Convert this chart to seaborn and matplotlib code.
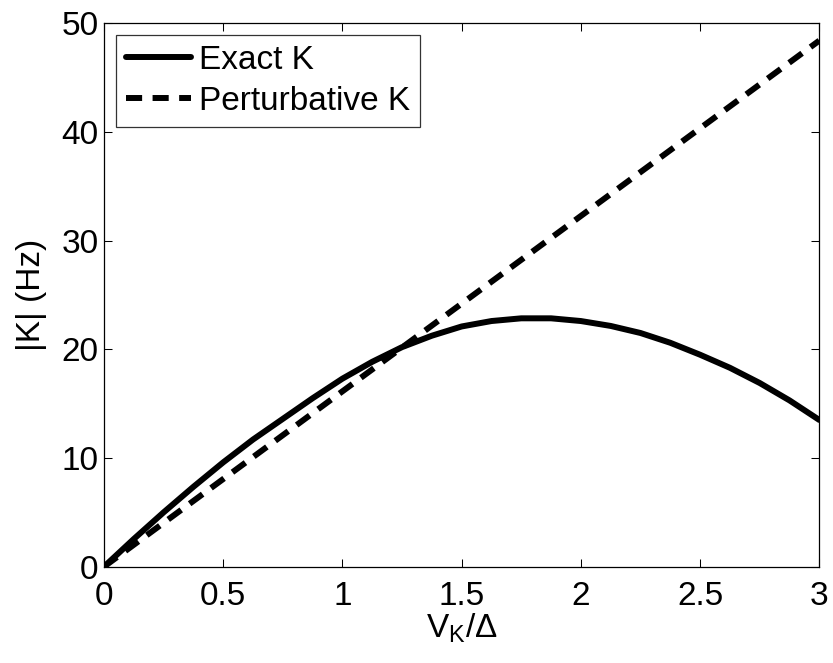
import matplotlib
matplotlib.use("Agg")
import matplotlib.pyplot as plt
import seaborn as sns
import pandas as pd

sns.set_theme(style="white")
plt.rcParams['font.family'] = ['Liberation Sans', 'DejaVu Sans']
plt.rcParams['text.color'] = 'black'
plt.rcParams['mathtext.fontset'] = 'custom'
plt.rcParams['mathtext.rm'] = 'Liberation Sans'
plt.rcParams['mathtext.it'] = 'Liberation Sans'
plt.rcParams['mathtext.sf'] = 'Liberation Sans'

# Data
exact_x = [0, 0.125, 0.25, 0.375, 0.5, 0.625, 0.75, 0.875, 1.0, 1.125, 1.25, 1.375,
           1.5, 1.625, 1.75, 1.875, 2.0, 2.125, 2.25, 2.375, 2.5, 2.625, 2.75, 2.875, 3.0]
exact_k = [0, 2.55, 5.0, 7.35, 9.6, 11.7, 13.6, 15.5, 17.3, 18.85, 20.2, 21.25,
           22.1, 22.6, 22.85, 22.85, 22.6, 22.15, 21.5, 20.6, 19.5, 18.3, 16.9, 15.3, 13.5]
pert_x = [0, 3.0]
pert_k = [0, 48.4]

x_ticks = [0, 0.5, 1, 1.5, 2, 2.5, 3]
x_tick_labels = ["0", "0.5", "1", "1.5", "2", "2.5", "3"]
y_ticks = [0, 10, 20, 30, 40, 50]

df_exact = pd.DataFrame({"x": exact_x, "k": exact_k})
df_pert = pd.DataFrame({"x": pert_x, "k": pert_k})

fig = plt.figure(figsize=(8.33, 6.63), dpi=100)
ax = fig.add_axes([104/833, 1 - 566.7/663, (819.3 - 104)/833, (566.7 - 23.2)/663])

lw = 4.3
dash = (2.7, 1.75)
sns.lineplot(data=df_exact, x="x", y="k", ax=ax, color="black", linewidth=lw,
             label="Exact K", estimator=None, sort=False)
sns.lineplot(data=df_pert, x="x", y="k", ax=ax, color="black", linewidth=lw,
             label="Perturbative K", estimator=None, sort=False)
ax.lines[1].set_dashes(dash)
ax.lines[1].set_dash_capstyle('butt')

ax.set_xlim(0, 3)
ax.set_ylim(0, 50)
ax.set_xticks(x_ticks)
ax.set_xticklabels(x_tick_labels)
ax.set_yticks(y_ticks)
ax.tick_params(direction='in', length=5.8, width=0.75, labelsize=24, colors='black',
               top=True, right=True, bottom=True, left=True)
ax.tick_params(axis='x', pad=10)
ax.tick_params(axis='y', pad=4)
for s in ax.spines.values():
    s.set_visible(True)
    s.set_color('black')
    s.set_linewidth(0.9)

ax.set_xlabel(r"$\mathregular{V_K/\Delta}$", fontsize=24, color='black', labelpad=0)
ax.set_ylabel("|K| (Hz)", fontsize=24, color='black', labelpad=10)

leg = ax.legend(loc='upper left', fontsize=24, frameon=True, fancybox=False,
                handlelength=1.95, borderaxespad=0.35, borderpad=0.3,
                labelspacing=0.3, handletextpad=0.25)
leg.get_frame().set_edgecolor('black')
leg.get_frame().set_linewidth(0.9)
for t in leg.get_texts():
    t.set_color('black')
for h in leg.get_lines():
    h.set_linewidth(lw)
leg.get_lines()[1].set_dashes(dash)

fig.savefig("out.png", dpi=100, facecolor='white')
